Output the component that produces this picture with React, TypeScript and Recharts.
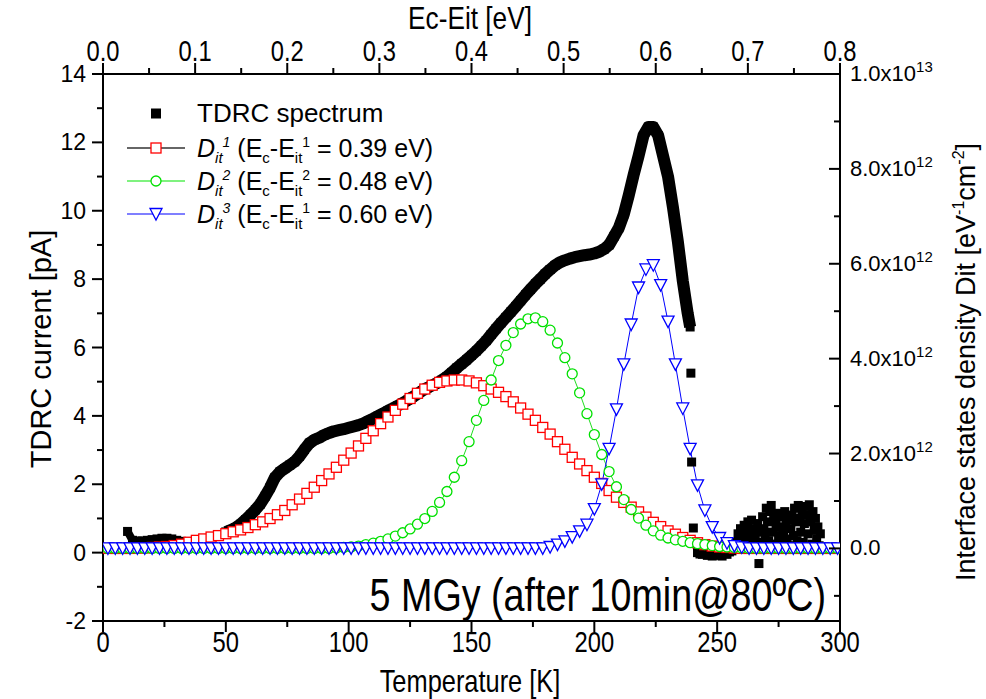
import React from "react";
import { ComposedChart, Line, XAxis, YAxis } from "recharts";

const W = 986;
const H = 699;
const SANS = "'Liberation Sans', Arial, sans-serif";
const NARROW = 0.82;

// TDRC spectrum [T (K), current (pA)] - continuous part
const tdrcMain: [number, number][] = [
  [10, 0.62], [12, 0.36], [14, 0.34], [16, 0.34], [18, 0.36], [20, 0.38], [22, 0.4], [24, 0.42],
  [26, 0.42], [28, 0.4], [30, 0.36], [32, 0.33], [34, 0.3], [36, 0.28], [38, 0.3], [40, 0.33],
  [42, 0.37], [44, 0.42], [46, 0.47], [48, 0.53], [50, 0.6], [52, 0.66], [54, 0.73], [56, 0.83],
  [58, 0.96], [60, 1.1], [62, 1.25], [64, 1.42], [66, 1.65], [68, 1.9], [70, 2.2], [72, 2.36],
  [74, 2.46], [76, 2.56], [78, 2.66], [80, 2.82], [82, 3.02], [84, 3.2], [86, 3.3], [88, 3.36],
  [90, 3.44], [92, 3.5], [94, 3.55], [96, 3.58], [98, 3.61], [100, 3.65], [102, 3.69], [104, 3.73],
  [106, 3.78], [108, 3.85], [110, 3.92], [112, 4.0], [114, 4.07], [116, 4.15], [118, 4.22], [120, 4.3],
  [122, 4.38], [124, 4.46], [126, 4.55], [128, 4.64], [130, 4.74], [132, 4.82], [134, 4.89], [136, 4.96],
  [138, 5.05], [140, 5.15], [142, 5.27], [144, 5.4], [146, 5.52], [148, 5.64], [150, 5.77], [152, 5.9],
  [154, 6.05], [156, 6.2], [158, 6.38], [160, 6.55], [162, 6.72], [164, 6.88], [166, 7.04], [168, 7.2],
  [170, 7.37], [172, 7.54], [174, 7.7], [176, 7.86], [178, 8.0], [180, 8.15], [182, 8.28], [184, 8.4],
  [186, 8.49], [188, 8.55], [190, 8.6], [192, 8.64], [194, 8.67], [196, 8.7], [198, 8.72], [200, 8.75],
  [202, 8.8], [204, 8.88], [206, 9.0], [208, 9.25], [210, 9.5], [212, 9.9], [214, 10.45], [216, 11.05],
  [218, 11.6], [220, 12.2], [222, 12.45], [224, 12.45], [226, 12.2], [228, 11.6], [230, 11.0], [232, 10.1],
  [234, 9.1], [236, 7.95], [238, 7.0], [239, 6.6],
];

// TDRC spectrum - scattered points after the drop
const tdrcTail: [number, number][] = [
  [239.3, 5.25], [239.6, 2.65], [240.3, 0.72], [242, 0.0], [243, -0.04], [244, -0.05], [245, -0.02],
  [246, -0.08], [247, -0.06], [248, -0.1], [249, -0.04], [250, -0.05], [251, -0.08], [252, -0.1],
  [253, -0.03], [254, -0.05], [255, 0.02], [256, 0.05], [257, 0.15], [257.5, 0.3], [258, 0.1],
  [258.5, 0.55], [259, 0.35], [259.5, 0.7], [260, 0.45], [260.5, 0.2], [261, 0.8], [261.5, 0.6],
  [262, 0.3], [262.5, 0.9], [263, 0.65], [263.5, 0.45], [264, 0.95], [264.5, 0.25], [265, 0.7],
  [265.5, 0.5], [266, 0.15], [266.5, 0.85], [267, -0.32], [267.5, 0.6], [268, 0.3], [268.5, 1.05],
  [269, 0.7], [269.5, 0.45], [270, 1.3], [270.5, 0.9], [271, 0.35], [271.5, 1.2], [272, 1.38],
  [272.5, 0.6], [273, 1.0], [273.5, 0.25], [274, 0.8], [274.5, 1.15], [275, 0.5], [275.5, 0.75],
  [276, 0.3], [276.5, 1.05], [277, 0.6], [277.5, 1.2], [278, 0.85], [278.5, 0.4], [279, 0.95],
  [279.5, 0.2], [280, 0.7], [280.5, 1.1], [281, 0.5], [281.5, 1.3], [282, 0.9], [282.5, 0.35],
  [283, 1.38], [283.5, 1.0], [284, 0.6], [284.5, 1.25], [285, 0.3], [285.5, 0.85], [286, 1.35],
  [286.5, 1.1], [287, 0.55], [287.5, 1.4], [288, 0.9], [288.5, 0.25], [289, 1.2], [289.5, 0.65],
  [290, 1.0], [290.5, 0.4], [291, 0.75], [291.5, 0.2], [292, 0.55],
];

// temperature grid of the fitted Dit curves (K)
const ditTemps = [
  2, 5, 8, 11, 14, 17, 20, 23, 26, 29, 32, 35, 38, 41, 44, 47, 50, 53, 56, 59,
  62, 65, 68, 71, 74, 77, 80, 83, 86, 89, 92, 95, 98, 101, 104, 107, 110, 113, 116, 119,
  122, 125, 128, 131, 134, 137, 140, 143, 146, 149, 152, 155, 158, 161, 164, 167, 170, 173, 176, 179,
  182, 185, 188, 191, 194, 197, 200, 203, 206, 209, 212, 215, 218, 221, 224, 227, 230, 233, 236, 239,
  242, 245, 248, 251, 254, 257, 260, 263, 266, 269, 272, 275, 278, 281, 284, 287, 290, 293, 296, 299,
];

// Dit in units of 1e12 eV^-1 cm^-2
const dit1 = [
  0, 0, 0, 0, 0.01, 0.01, 0.02, 0.03, 0.04, 0.06, 0.09, 0.13, 0.17, 0.2, 0.24, 0.27, 0.31, 0.35, 0.39, 0.44,
  0.5, 0.56, 0.63, 0.71, 0.8, 0.92, 1.04, 1.16, 1.29, 1.43, 1.57, 1.71, 1.86, 2.01, 2.16, 2.32, 2.48, 2.63, 2.77, 2.91,
  3.04, 3.16, 3.27, 3.36, 3.44, 3.5, 3.53, 3.55, 3.55, 3.53, 3.49, 3.43, 3.36, 3.29, 3.2, 3.09, 2.96, 2.83, 2.7, 2.55,
  2.41, 2.25, 2.09, 1.92, 1.78, 1.64, 1.5, 1.37, 1.22, 1.08, 0.97, 0.87, 0.77, 0.66, 0.55, 0.46, 0.37, 0.3, 0.23, 0.17,
  0.12, 0.08, 0.05, 0.03, 0.02, 0.01, 0, 0, 0, 0, 0, 0, 0, 0, 0, 0, 0, 0, 0, 0,
];
const dit2 = [
  0, 0, 0, 0, 0, 0, 0, 0, 0, 0, 0, 0, 0, 0, 0, 0, 0, 0, 0, 0,
  0, 0, 0, 0, 0, 0, 0, 0, 0, 0, 0, 0.01, 0.02, 0.03, 0.05, 0.08, 0.11, 0.15, 0.2, 0.26,
  0.33, 0.41, 0.51, 0.63, 0.78, 0.97, 1.2, 1.5, 1.85, 2.25, 2.7, 3.12, 3.55, 3.96, 4.28, 4.55, 4.73, 4.84, 4.86, 4.78,
  4.6, 4.33, 4.02, 3.68, 3.28, 2.84, 2.4, 1.98, 1.62, 1.3, 1.03, 0.82, 0.64, 0.49, 0.37, 0.28, 0.22, 0.18, 0.15, 0.12,
  0.1, 0.08, 0.06, 0.04, 0.03, 0.02, 0.01, 0, 0, 0, 0, 0, 0, 0, 0, 0, 0, 0, 0, 0,
];
const dit3 = [
  0, 0, 0, 0, 0, 0, 0, 0, 0, 0, 0, 0, 0, 0, 0, 0, 0, 0, 0, 0,
  0, 0, 0, 0, 0, 0, 0, 0, 0, 0, 0, 0, 0, 0, 0, 0, 0, 0, 0, 0,
  0, 0, 0, 0, 0, 0, 0, 0, 0, 0, 0, 0, 0, 0, 0, 0, 0, 0, 0, 0,
  0.03, 0.08, 0.15, 0.24, 0.36, 0.5, 0.83, 1.35, 2.1, 2.93, 3.88, 4.72, 5.5, 5.88, 5.97, 5.55, 4.78, 3.88, 2.95, 2.1,
  1.33, 0.8, 0.45, 0.22, 0.11, 0.05, 0.02, 0, 0, 0, 0, 0, 0, 0, 0, 0, 0, 0, 0, 0,
];

const tempTicks = [0, 25, 50, 75, 100, 125, 150, 175, 200, 225, 250, 275, 300];
const energyTicks = [0, 0.05, 0.1, 0.15, 0.2, 0.25, 0.3, 0.35, 0.4, 0.45, 0.5, 0.55, 0.6, 0.65, 0.7, 0.75, 0.8];
const currentTicks = [-2, -1, 0, 1, 2, 3, 4, 5, 6, 7, 8, 9, 10, 11, 12, 13, 14];
const ditTicks = [-1, 0, 1, 2, 3, 4, 5, 6, 7, 8, 9, 10];

// top axis shares the temperature scale: 0.8 eV at 300 K
const K_PER_EV = 300 / 0.8;

const tdrcData = tdrcMain.map(([T, I]) => ({ T, I }));
const tdrcLow = tdrcData.filter((d) => d.T <= 50);
const tdrcHigh = tdrcData.filter((d) => d.T >= 50);
const tdrcTailData = tdrcTail.map(([T, I]) => ({ T, I }));
const ditData = ditTemps.map((T, i) => ({ T, d1: dit1[i], d2: dit2[i], d3: dit3[i] }));

const PL = 103;
const PR = 840;
const PT = 74;
const PB = 621;

const NarrowText = ({ x, y, size, anchor = "middle", children }: any) => (
  <text
    transform={`translate(${x},${y}) scale(${NARROW},1)`}
    fontFamily={SANS}
    fontSize={size}
    textAnchor={anchor}
    fill="#000"
  >
    {children}
  </text>
);

const BottomTick = (props: any) => {
  const { x, payload } = props;
  const major = payload.value % 50 === 0;
  return (
    <g>
      <line x1={x} x2={x} y1={PB} y2={PB + (major ? 11 : 6)} stroke="#000" strokeWidth={2} />
      {major && (
        <NarrowText x={x} y={652} size={29}>
          {payload.value}
        </NarrowText>
      )}
    </g>
  );
};

const TopTick = (props: any) => {
  const { x, payload } = props;
  const ev = payload.value / K_PER_EV;
  const major = Math.round(ev * 20) % 2 === 0;
  return (
    <g>
      <line x1={x} x2={x} y1={PT} y2={PT - (major ? 11 : 6)} stroke="#000" strokeWidth={2} />
      {major && (
        <NarrowText x={x} y={61} size={29}>
          {ev.toFixed(1)}
        </NarrowText>
      )}
    </g>
  );
};

const LeftTick = (props: any) => {
  const { y, payload } = props;
  const major = payload.value % 2 === 0;
  return (
    <g>
      <line x1={PL} x2={PL - (major ? 11 : 6)} y1={y} y2={y} stroke="#000" strokeWidth={2} />
      {major && (
        <text x={86} y={y + 8} textAnchor="end" fontFamily={SANS} fontSize={23} fill="#000">
          {payload.value}
        </text>
      )}
    </g>
  );
};

const RightTick = (props: any) => {
  const { y, payload } = props;
  const v = payload.value;
  const major = v >= 0 && v % 2 === 0;
  let label: React.ReactNode = null;
  if (v === 0) label = "0.0";
  else if (v === 10)
    label = (
      <>
        1.0x10<tspan fontSize={15} dy={-9}>13</tspan>
      </>
    );
  else if (major)
    label = (
      <>
        {v.toFixed(1)}x10<tspan fontSize={15} dy={-9}>12</tspan>
      </>
    );
  return (
    <g>
      <line x1={PR} x2={PR - (major ? 11 : 6)} y1={y} y2={y} stroke="#000" strokeWidth={2} />
      {label && (
        <text x={850} y={y + 7} fontFamily={SANS} fontSize={22} fill="#000">
          {label}
        </text>
      )}
    </g>
  );
};

const blackSquare = (props: any) => {
  const { cx, cy, index } = props;
  if (cx == null || cy == null) return <g key={index} />;
  return <rect key={index} x={cx - 4.5} y={cy - 4.5} width={9} height={9} fill="#000" />;
};

const redSquare = (props: any) => {
  const { cx, cy, index } = props;
  if (cx == null || cy == null) return <g key={index} />;
  return (
    <rect key={index} x={cx - 5} y={cy - 5} width={10} height={10} fill="#fff" stroke="#ff0000" strokeWidth={1.3} />
  );
};

const greenCircle = (props: any) => {
  const { cx, cy, index } = props;
  if (cx == null || cy == null) return <g key={index} />;
  return <circle key={index} cx={cx} cy={cy} r={5} fill="#fff" stroke="#00e000" strokeWidth={1.3} />;
};

const triPath = (cx: number, cy: number) =>
  `M${cx - 6},${cy - 5.5} L${cx + 6},${cy - 5.5} L${cx},${cy + 6} Z`;

const blueTriangle = (props: any) => {
  const { cx, cy, index } = props;
  if (cx == null || cy == null) return <g key={index} />;
  return <path key={index} d={triPath(cx, cy)} fill="#fff" stroke="#0000ff" strokeWidth={1.3} />;
};

const Overlay = () => (
  <svg
    width={W}
    height={H}
    style={{ position: "absolute", left: 0, top: 0, pointerEvents: "none", whiteSpace: "pre" }}
  >
    <NarrowText x={470} y={29} size={32}>
      Ec-Eit [eV]
    </NarrowText>
    <NarrowText x={470} y={692} size={31}>
      Temperature [K]
    </NarrowText>
    <text transform="translate(51,349) rotate(-90)" textAnchor="middle" fontFamily={SANS} fontSize={29}>
      TDRC current [pA]
    </text>
    <text transform="translate(975,362) rotate(-90)" textAnchor="middle" fontFamily={SANS} fontSize={27}>
      Interface states density Dit [eV<tspan fontSize={16} dy={-11}>-1</tspan>
      <tspan dy={11}>cm</tspan>
      <tspan fontSize={16} dy={-11}>-2</tspan>
      <tspan dy={11}>]</tspan>
    </text>
    <NarrowText x={826} y={611} size={46} anchor="end">
      5 MGy (after 10min@80{"\u00BA"}C)
    </NarrowText>

    {/* legend */}
    <rect x={151} y={108.5} width={10} height={10} fill="#000" />
    <text x={197} y={122} fontFamily={SANS} fontSize={26}>
      TDRC spectrum
    </text>
    {[
      { y: 148, line: "#333333", sup: "1", sub2: "1", val: "0.39", kind: "sq" },
      { y: 181, line: "#55ee55", sup: "2", sub2: "2", val: "0.48", kind: "ci" },
      { y: 214, line: "#5555ff", sup: "3", sub2: "1", val: "0.60", kind: "tr" },
    ].map((r) => (
      <g key={r.y}>
        <line x1={127} x2={185} y1={r.y} y2={r.y} stroke={r.line} strokeWidth={1.3} />
        {r.kind === "sq" && (
          <rect x={151} y={r.y - 5} width={10} height={10} fill="#fff" stroke="#ff0000" strokeWidth={1.3} />
        )}
        {r.kind === "ci" && <circle cx={156} cy={r.y} r={5} fill="#fff" stroke="#00e000" strokeWidth={1.3} />}
        {r.kind === "tr" && <path d={triPath(156, r.y)} fill="#fff" stroke="#0000ff" strokeWidth={1.3} />}
        <text x={197} y={r.y + 9} fontFamily={SANS} fontSize={25}>
          <tspan fontStyle="italic">D</tspan>
          <tspan fontStyle="italic" fontSize={15} dy={6}>it</tspan>
          <tspan fontStyle="italic" fontSize={14} dy={-16}>{r.sup}</tspan>
          <tspan dy={10}> (E</tspan>
          <tspan fontSize={15} dy={6}>c</tspan>
          <tspan dy={-6}>-E</tspan>
          <tspan fontSize={15} dy={6}>it</tspan>
          <tspan fontSize={14} dy={-16}>{r.sub2}</tspan>
          <tspan dy={10}> = {r.val} eV)</tspan>
        </text>
      </g>
    ))}
  </svg>
);

export default function App() {
  return (
    <div style={{ position: "absolute", left: 0, top: 0, width: W, height: H, background: "#fff" }}>
      <ComposedChart width={W} height={H} margin={{ top: 0, right: 0, bottom: 0, left: 0 }}>
        <XAxis
          xAxisId="bottom"
          dataKey="T"
          type="number"
          domain={[0, 300]}
          ticks={tempTicks}
          height={78}
          axisLine={{ stroke: "#000", strokeWidth: 2 }}
          tickLine={false}
          tick={<BottomTick />}
          interval={0}
          allowDataOverflow
        />
        <XAxis
          xAxisId="top"
          orientation="top"
          dataKey="T"
          type="number"
          domain={[0, 300]}
          ticks={energyTicks.map((e) => e * K_PER_EV)}
          height={74}
          axisLine={{ stroke: "#000", strokeWidth: 2 }}
          tickLine={false}
          tick={<TopTick />}
          interval={0}
          allowDataOverflow
        />
        <YAxis
          yAxisId="left"
          type="number"
          domain={[-2, 14]}
          ticks={currentTicks}
          width={103}
          axisLine={{ stroke: "#000", strokeWidth: 2 }}
          tickLine={false}
          tick={<LeftTick />}
          interval={0}
          allowDataOverflow
        />
        <YAxis
          yAxisId="right"
          orientation="right"
          type="number"
          domain={[-1.53, 10]}
          ticks={ditTicks}
          width={146}
          axisLine={{ stroke: "#000", strokeWidth: 2 }}
          tickLine={false}
          tick={<RightTick />}
          interval={0}
          allowDataOverflow
        />
        <Line
          data={tdrcLow}
          xAxisId="top"
          yAxisId="left"
          dataKey="I"
          stroke="#000"
          strokeWidth={8}
          strokeLinejoin="round"
          dot={blackSquare}
          isAnimationActive={false}
        />
        <Line
          data={tdrcHigh}
          xAxisId="top"
          yAxisId="left"
          dataKey="I"
          stroke="#000"
          strokeWidth={12}
          strokeLinejoin="round"
          dot={blackSquare}
          isAnimationActive={false}
        />
        <Line
          data={tdrcTailData}
          xAxisId="top"
          yAxisId="left"
          dataKey="I"
          stroke="none"
          dot={blackSquare}
          isAnimationActive={false}
        />
        <Line
          data={ditData}
          xAxisId="bottom"
          yAxisId="right"
          dataKey="d1"
          stroke="#333333"
          strokeWidth={1}
          dot={redSquare}
          isAnimationActive={false}
        />
        <Line
          data={ditData}
          xAxisId="bottom"
          yAxisId="right"
          dataKey="d2"
          stroke="#22dd22"
          strokeWidth={1}
          dot={greenCircle}
          isAnimationActive={false}
        />
        <Line
          data={ditData}
          xAxisId="bottom"
          yAxisId="right"
          dataKey="d3"
          stroke="#0000ff"
          strokeWidth={1}
          dot={blueTriangle}
          isAnimationActive={false}
        />
      </ComposedChart>
      <Overlay />
    </div>
  );
}
